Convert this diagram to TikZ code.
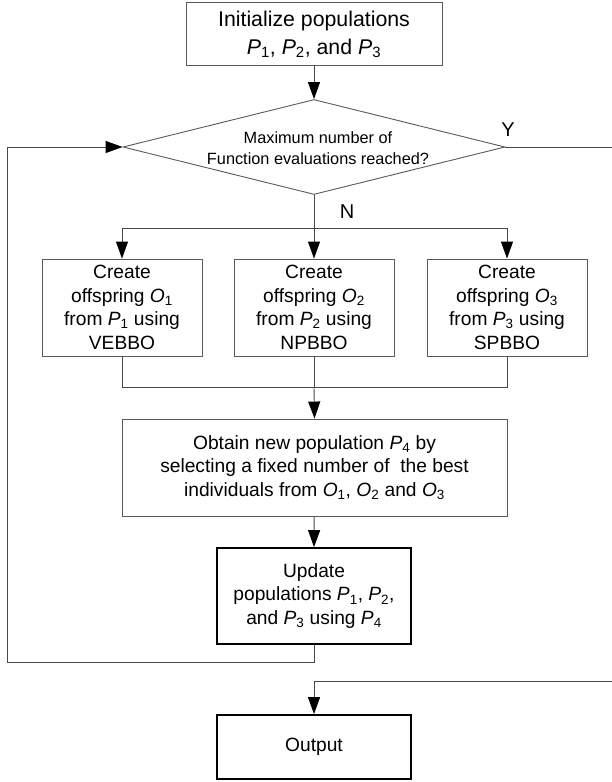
\documentclass[tikz,border=0pt]{standalone}
\usepackage{fontspec}
\setmainfont{Liberation Sans}
\usetikzlibrary{arrows.meta,shapes.geometric}
\newcommand{\myP}[1]{\textit{P}\textsubscript{#1}}
\newcommand{\myO}[1]{\textit{O}\textsubscript{#1}}
\begin{document}
\begin{tikzpicture}[x=1pt,y=-1pt,
  line/.style={draw=black!72, line width=0.9pt},
  arr/.style={line, -{Triangle[length=17pt,width=12pt,color=black]}},
  box/.style={draw=black!65, line width=0.9pt, rectangle, align=center, inner sep=0pt, font=\fontsize{19.2}{23.5}\selectfont},
  thickbox/.style={box, draw=black, line width=1.8pt},
  lbl/.style={font=\fontsize{20}{22}\selectfont, inner sep=0pt}
]
\useasboundingbox (0,0) rectangle (611,782);
\node[box, minimum width=256pt, minimum height=63pt, font=\fontsize{21.3}{28}\selectfont] (init) at (314,34) {Initialize populations\\\myP{1}, \myP{2}, and \myP{3}};
\node[diamond, draw=black!65, line width=0.9pt, aspect=4, minimum width=382pt, minimum height=95pt, inner sep=0pt] (dec) at (314,147) {};
\node[font=\fontsize{16.3}{20.7}\selectfont, align=center, inner sep=0pt] (dectext) at (318,148) {Maximum number of\\Function evaluations reached?};
\node[lbl] (ylbl) at (508,130) {Y};
\node[lbl] (nlbl) at (347,212) {N};
\node[box, minimum width=160pt, minimum height=97pt] (left) at (122,307.5) {Create\\offspring \myO{1}\\from \myP{1} using\\VEBBO};
\node[box, minimum width=160pt, minimum height=97pt] (mid) at (314,307.5) {Create\\offspring \myO{2}\\from \myP{2} using\\NPBBO};
\node[box, minimum width=160pt, minimum height=97pt] (right) at (507,307.5) {Create\\offspring \myO{3}\\from \myP{3} using\\SPBBO};
\node[box, minimum width=385pt, minimum height=97pt] (big) at (314.5,467.5) {Obtain new population \myP{4} by\\selecting a fixed number of \ the best\\individuals from \myO{1}, \myO{2} and \myO{3}};
\node[thickbox, minimum width=194pt, minimum height=96pt] (upd) at (314,596) {Update\\populations \myP{1}, \myP{2},\\and \myP{3} using \myP{4}};
\node[thickbox, minimum width=194pt, minimum height=64pt] (out) at (314,747) {Output};
\coordinate (split) at (314,228);
\coordinate (merge) at (314,387);
\coordinate (loopL) at (7,662);
\coordinate (rtop) at (616,147);
\coordinate (rbot) at (616,681);
\draw[arr] (init) -- (dec.north);
\draw[line] (dec.south) -- (split);
\draw[arr] (split) -- (mid.north);
\draw[arr] (split) -| (left.north);
\draw[arr] (split) -| (right.north);
\draw[line] (left.south) |- (merge);
\draw[line] (right.south) |- (merge);
\draw[line] (mid.south) -- (merge);
\draw[arr] (merge) -- (big.north);
\draw[arr] (big) -- (upd.north);
\draw[arr] (upd.south) |- (loopL) |- (dec.west);
\draw[arr] (dec.east) -- (rtop) -- (rbot) -| (out.north);
\end{tikzpicture}
\end{document}
